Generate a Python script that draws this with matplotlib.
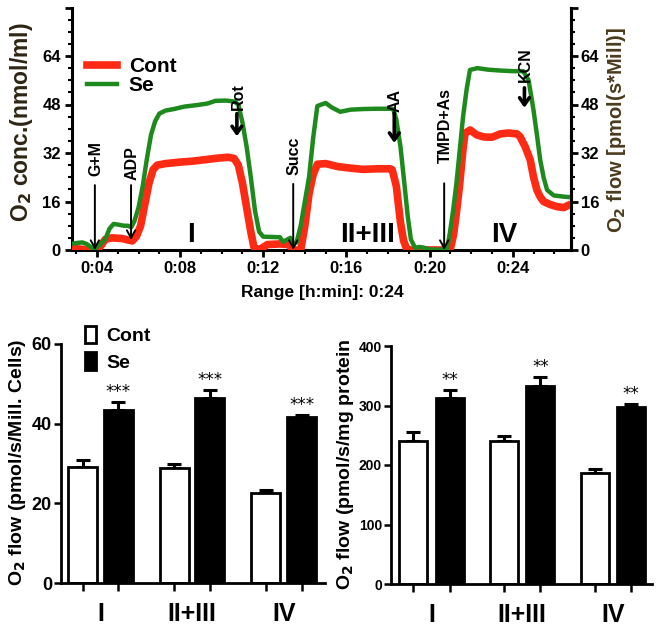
import matplotlib
matplotlib.use("Agg")
import matplotlib.pyplot as plt
from matplotlib.lines import Line2D
from matplotlib.patches import Patch
import numpy as np

FONT = ['Liberation Sans', 'DejaVu Sans']
plt.rcParams['font.family'] = FONT
plt.rcParams['font.weight'] = 'bold'

# ---------------- Data: top trace (time in minutes, O2 values) -------------
se_t = [2.8, 3.0, 3.3, 3.5, 3.7, 3.9, 4.1, 4.4, 4.6, 4.8, 5.0, 5.3, 5.5, 5.65, 5.8,
        6.0, 6.2, 6.4, 6.6, 6.8, 7.0, 7.3, 7.7, 8.2, 8.8, 9.3, 9.7, 10.2, 10.6, 10.8,
        11.0, 11.2, 11.4, 11.6, 11.8, 12.0, 12.4, 12.8, 12.95, 13.3, 13.45, 13.6,
        13.8, 14.0, 14.2, 14.4, 14.6, 15.0, 15.3, 15.7, 16.2, 16.8, 17.4, 18.1,
        18.25, 18.4, 18.6, 18.8, 18.95, 19.1, 19.3, 19.5, 19.7, 20.0, 20.5, 20.85,
        20.97, 21.13, 21.29, 21.45, 21.61, 21.78, 21.94, 22.3, 22.8, 23.4, 24.0,
        24.5, 24.76, 25.0, 25.16, 25.32, 25.48, 25.65, 25.97, 26.45, 26.8]
se_v = [2.0, 2.3, 2.5, 2.0, 1.0, 0.3, 1.5, 3.5, 7.0, 8.6, 8.4, 8.0, 8.0, 7.5, 9.5,
        14.0, 21.0, 30.0, 38.0, 42.5, 45.0, 46.0, 46.5, 47.3, 47.8, 48.3, 49.2, 49.3, 49.0, 48.0,
        42.0, 34.0, 24.0, 13.0, 6.0, 4.4, 4.3, 4.2, 2.7, 4.0, 2.0, 2.5,
        8.0, 16.0, 24.0, 37.0, 47.5, 48.5, 47.0, 45.6, 46.3, 46.5, 46.6, 46.6,
        46.5, 43.0, 34.0, 21.0, 11.0, 3.5, 0.7, 1.0, 0.8, 0.2, 0.1, 0.5,
        5.5, 13.0, 22.0, 33.0, 44.0, 53.0, 59.4, 60.0, 59.5, 59.2, 59.0,
        59.0, 56.0, 46.0, 38.0, 29.7, 24.0, 19.8, 18.0, 17.6, 17.4]

cont_t = [2.8, 3.2, 3.6, 4.0, 4.2, 4.4, 4.7, 5.2, 5.5, 5.7, 5.9, 6.1, 6.3, 6.5, 6.7,
          6.9, 7.3, 8.0, 8.6, 9.2, 9.8, 10.3, 10.6, 10.8, 11.0, 11.2, 11.4, 11.55, 11.7,
          11.9, 12.2, 12.8, 13.2, 13.5, 13.8, 14.0, 14.2, 14.4, 14.6, 15.0, 15.6, 16.2,
          16.8, 17.5, 18.1, 18.2, 18.4, 18.6, 18.75, 18.9, 19.1, 20.0, 20.9, 21.0,
          21.15, 21.3, 21.45, 21.6, 21.7, 21.95, 22.26, 22.6, 23.0, 23.4, 23.8, 24.2,
          24.35, 24.6, 24.84, 25.0, 25.16, 25.32, 25.48, 25.8, 26.13, 26.45, 26.8]
cont_v = [0.5, 0.3, 0.0, 0.0, 1.5, 3.5, 4.0, 3.8, 3.3, 3.0, 4.5, 8.0, 15.0, 22.0, 26.5,
          28.0, 28.5, 29.0, 29.3, 29.8, 30.3, 30.6, 30.2, 28.0, 22.0, 14.0, 6.0, 1.0, 0.0,
          0.5, 1.8, 2.0, 1.8, 0.0, 0.0, 8.0, 18.5, 25.0, 28.3, 28.5, 27.5, 27.0,
          26.6, 26.8, 26.8, 26.5, 21.0, 9.0, 3.0, 0.3, 0.0, 0.0, 0.0, 0.5,
          5.0, 13.0, 22.0, 33.0, 38.5, 39.6, 38.0, 37.3, 37.2, 38.3, 38.6, 38.3,
          37.4, 34.0, 29.7, 24.0, 19.8, 17.5, 16.0, 15.0, 14.3, 14.0, 15.2]

# annotations: label, x (min), arrow tail y, arrow tip y, text bottom y, thick
ann_labels = ['G+M', 'ADP', 'Rot', 'Succ', 'AA', 'TMPD+As', 'KCN']
ann_x = [3.9, 5.64, 10.73, 13.44, 18.3, 20.7, 24.56]
ann_tail = [21.4, 21.4, 45.0, 21.8, 45.2, 22.0, 53.5]
ann_tip = [0.0, 3.3, 37.5, 0.0, 35.3, 0.0, 46.9]
ann_text = [24.5, 23.0, 46.2, 24.7, 45.5, 28.7, 55.4]
ann_thick = [False, False, True, False, True, False, True]

phase_labels = ['I', 'II+III', 'IV']
phase_x = [8.5, 17.0, 23.6]

xtick_vals = [4, 8, 12, 16, 20, 24]
xtick_labels = ['0:04', '0:08', '0:12', '0:16', '0:20', '0:24']
ytick_vals = [0, 16, 32, 48, 64, 80]
ytick_labels = ['0', '16', '32', '48', '64', '']

# ---------------- Data: bar charts -----------------------------------------
groups = ['I', 'II+III', 'IV']
cells_cont = [29.1, 28.9, 22.6]
cells_cont_err = [1.8, 1.0, 0.8]
cells_se = [43.4, 46.4, 41.7]
cells_se_err = [2.0, 2.1, 0.5]
cells_stars = ['***', '***', '***']

prot_cont = [241, 240, 187]
prot_cont_err = [15, 9, 7]
prot_se = [312, 333, 298]
prot_se_err = [14, 15, 4]
prot_stars = ['**', '**', '**']

RED = '#FF2A14'
GREEN = '#1E8A1E'

W, H = 658, 627
fig = plt.figure(figsize=(W / 100, H / 100), dpi=100)


def rect(l, t, r, b):
    return [l / W, 1 - b / H, (r - l) / W, (b - t) / H]


# ---------------- Top trace panel -------------------------------------------
ax = fig.add_axes(rect(72, 7.5, 571, 250))
ax.plot(cont_t, cont_v, color=RED, lw=5.5, solid_capstyle='butt', zorder=3)
ax.plot(se_t, se_v, color=GREEN, lw=3.2, solid_capstyle='butt', zorder=4)
ax.set_xlim(2.8, 26.8)
ax.set_ylim(0, 80)
ax.set_xticks(xtick_vals)
ax.set_xticklabels(xtick_labels)
ax.set_xticks(np.arange(3, 27, 1), minor=True)
ax.set_yticks(ytick_vals)
ax.set_yticklabels(ytick_labels)
ax.set_yticks(np.arange(0, 81, 4), minor=True)
for s in ['left', 'bottom', 'right']:
    ax.spines[s].set_linewidth(2.2)
ax.spines['top'].set_visible(False)
ax.tick_params(which='major', length=5, width=2, labelsize=12, pad=3)
ax.tick_params(which='minor', length=3, width=1.5)
for lab in ax.get_xticklabels() + ax.get_yticklabels():
    lab.set_fontweight('bold')

ax2 = ax.twinx()
ax2.set_ylim(0, 80)
ax2.set_yticks(ytick_vals)
ax2.set_yticklabels(ytick_labels)
ax2.set_yticks(np.arange(0, 81, 4), minor=True)
for s in ['left', 'top', 'bottom']:
    ax2.spines[s].set_visible(False)
ax2.spines['right'].set_linewidth(2.2)
ax2.tick_params(which='major', length=5, width=2, labelsize=12, pad=2)
ax2.tick_params(which='minor', length=3, width=1.5)
for lab in ax2.get_yticklabels():
    lab.set_fontweight('bold')

for lab, x, tail, tip, ty, thick in zip(ann_labels, ann_x, ann_tail, ann_tip, ann_text, ann_thick):
    if thick:
        props = dict(arrowstyle='->,head_length=0.5,head_width=0.35', lw=2.6, color='black',
                     shrinkA=0, shrinkB=0)
    else:
        props = dict(arrowstyle='->,head_length=0.55,head_width=0.3', lw=1.4, color='black',
                     shrinkA=0, shrinkB=0)
    ax.annotate('', xy=(x, tip), xytext=(x, tail), arrowprops=props, zorder=6)
    ax.text(x + 0.05, ty, lab, rotation=90, ha='center', va='bottom', fontsize=11.5,
            fontweight='bold', zorder=6)

for lab, x in zip(phase_labels, phase_x):
    ax.text(x, 5, lab, ha='center', va='center', fontsize=20, fontweight='bold', zorder=6)

leg_handles = [Line2D([0], [0], color=RED, lw=5.5), Line2D([0], [0], color=GREEN, lw=3.2)]
leg = ax.legend(leg_handles, ['Cont', 'Se'], loc='upper left', bbox_to_anchor=(0.03, 0.795),
                frameon=False, handlelength=1.45, handletextpad=0.55,
                labelspacing=0.0, borderpad=0, borderaxespad=0,
                prop=dict(weight='bold', size=15))

fig.text(22 / W, 1 - 122 / H, 'O$_2$ conc.(nmol/ml)', rotation=90, ha='center', va='center',
         fontsize=16.5, fontweight='bold', color='#2e2414')
fig.text(617 / W, 1 - 130 / H, 'O$_2$ flow [pmol(s*Mill)]', rotation=90, ha='center', va='center',
         fontsize=14.5, fontweight='bold', color='#4a3b1e')
fig.text(322 / W, 1 - 293 / H, 'Range [h:min]: 0:24', ha='center', va='center',
         fontsize=12.5, fontweight='bold')


# ---------------- Bar panels ------------------------------------------------
def bar_panel(rc, cont, cont_err, se, se_err, stars, ylim, yticks, offset, width,
              xlim, star_pad, tick_fs, ylabel, ylabel_xy, ylabel_fs, legend):
    bx = fig.add_axes(rect(*rc))
    x = np.arange(len(groups))
    bx.bar(x - offset, cont, width, color='white', edgecolor='black', linewidth=2, zorder=2,
           yerr=[np.zeros(len(cont)), cont_err],
           error_kw=dict(elinewidth=2.2, capsize=5, capthick=2.2, ecolor='black', zorder=1))
    bx.bar(x + offset, se, width, color='black', edgecolor='black', linewidth=2, zorder=2,
           yerr=[np.zeros(len(se)), se_err],
           error_kw=dict(elinewidth=2.2, capsize=5, capthick=2.2, ecolor='black', zorder=1))
    for xi, v, e, s in zip(x, se, se_err, stars):
        bx.text(xi + offset, v + e + star_pad, s, ha='center', va='bottom', fontsize=12,
                fontweight='normal', family=['DejaVu Sans'])
    bx.set_xlim(*xlim)
    bx.set_ylim(*ylim)
    bx.set_yticks(yticks)
    bx.set_xticks(np.concatenate([x - offset, x + offset]))
    bx.set_xticklabels([])
    bx.set_xticks(x, minor=True)
    bx.set_xticklabels(groups, minor=True)
    bx.tick_params(axis='x', which='major', length=6, width=1.8, direction='out')
    bx.tick_params(axis='x', which='minor', length=0, labelsize=18, pad=14)
    bx.tick_params(axis='y', length=5, width=1.8, labelsize=tick_fs, pad=1.5)
    for lab in bx.get_xticklabels(minor=True) + bx.get_yticklabels():
        lab.set_fontweight('bold')
    for s in ['top', 'right']:
        bx.spines[s].set_visible(False)
    for s in ['left', 'bottom']:
        bx.spines[s].set_linewidth(2)
    fig.text(ylabel_xy[0] / W, 1 - ylabel_xy[1] / H, ylabel, rotation=90, ha='center',
             va='center', fontsize=ylabel_fs, fontweight='bold')
    if legend:
        hs = [Patch(facecolor='white', edgecolor='black', linewidth=2),
              Patch(facecolor='black', edgecolor='black', linewidth=2)]
        bx.legend(hs, ['Cont', 'Se'], loc='upper left', bbox_to_anchor=(0.09, 1.075),
                  frameon=False, handlelength=0.6, handleheight=1.0, handletextpad=0.5,
                  labelspacing=0.35, borderpad=0, borderaxespad=0,
                  prop=dict(weight='bold', size=14))
    return bx


bar_panel((61, 344, 325, 583), cells_cont, cells_cont_err, cells_se, cells_se_err, cells_stars,
          (0, 60), [0, 20, 40, 60], 0.194, 0.317, (-0.43, 2.45), 0.3, 13,
          'O$_2$ flow (pmol/s/Mill. Cells)', (18, 462), 14, True)
bar_panel((391, 346, 652, 584), prot_cont, prot_cont_err, prot_se, prot_se_err, prot_stars,
          (0, 400), [0, 100, 200, 300, 400], 0.2, 0.31, (-0.447, 2.43), 2, 10,
          'O$_2$ flow (pmol/s/mg protein', (345, 464), 14, False)

fig.savefig('out.png', dpi=100)
